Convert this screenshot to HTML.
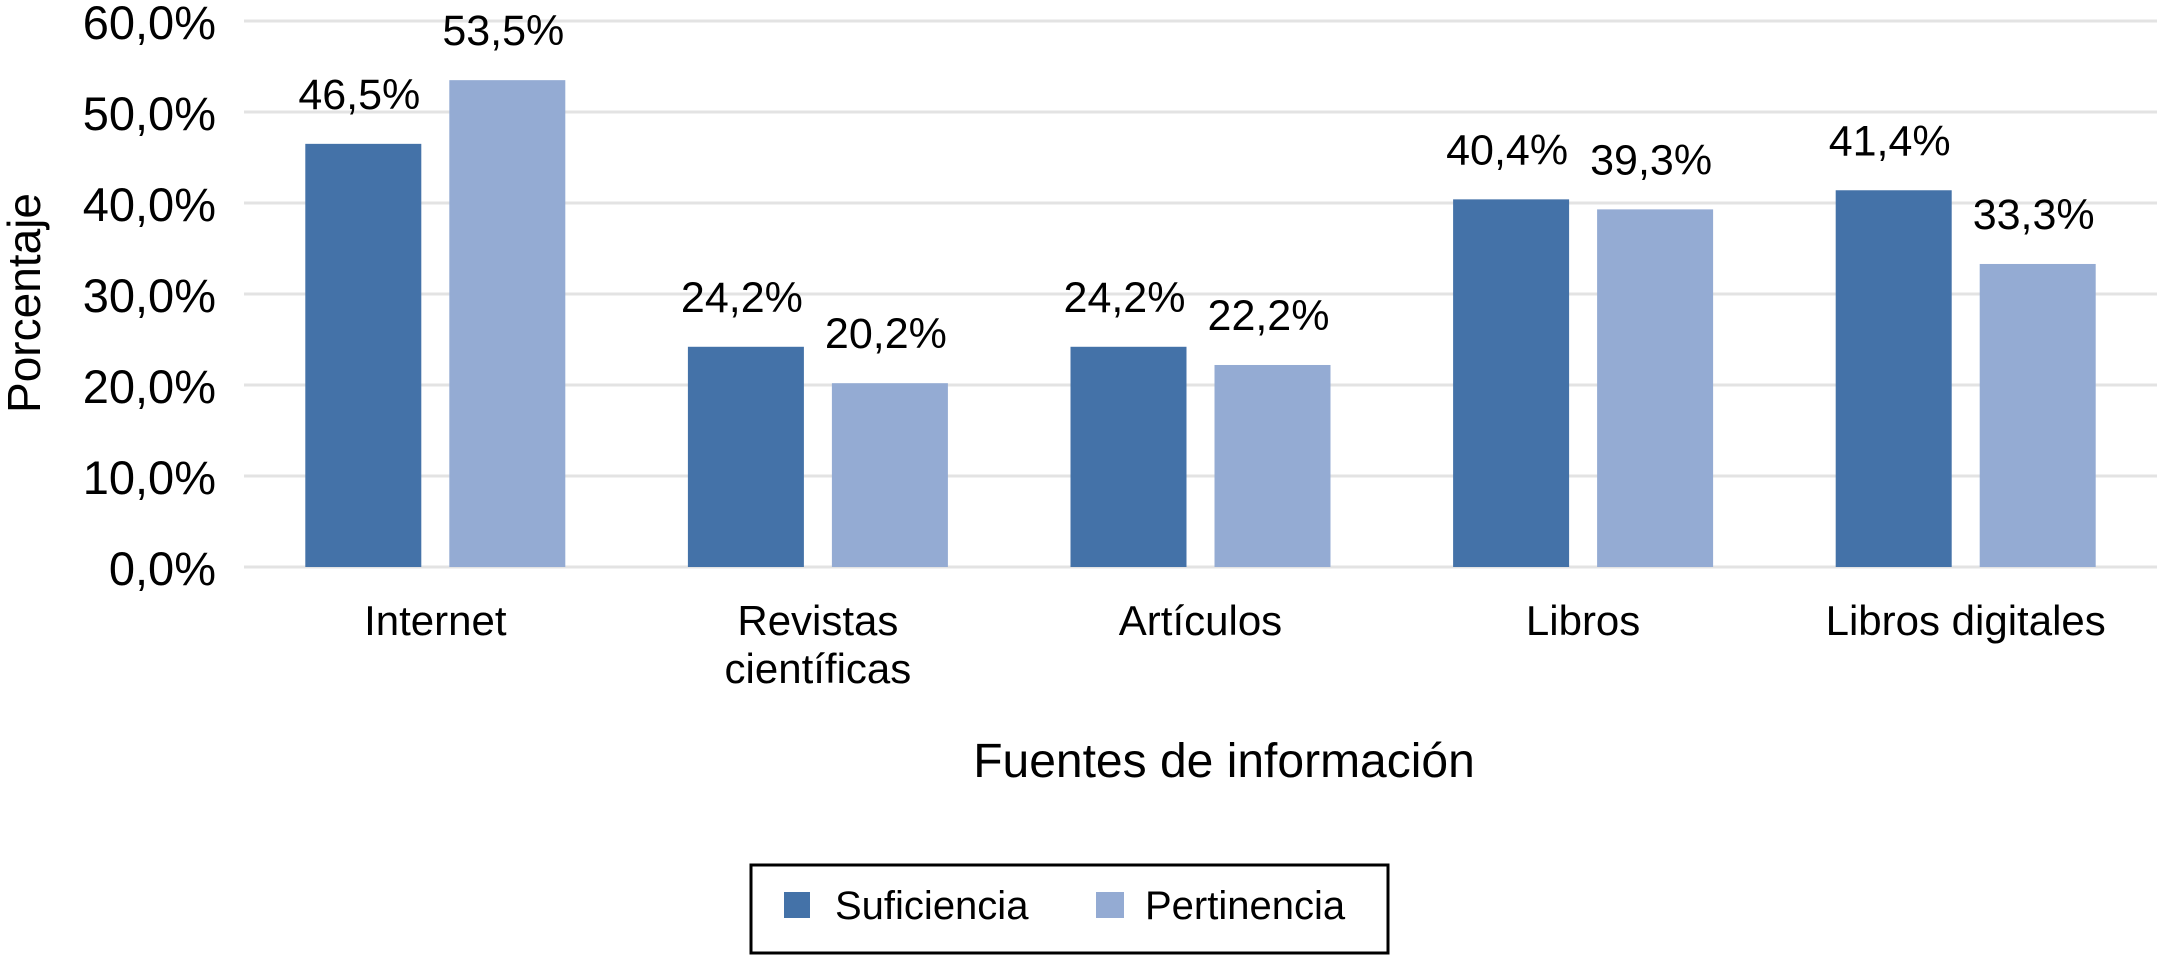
<!DOCTYPE html>
<html><head><meta charset="utf-8"><style>
html,body{margin:0;padding:0;background:#fff;}
svg{display:block;font-family:"Liberation Sans",Arial,sans-serif;}
</style></head><body>
<svg id="chart" width="2164" height="955" viewBox="0 0 2164 955">
<g id="grid"></g><g id="bars"></g><g id="labels"></g>
<text transform="translate(40,303) rotate(-90)" text-anchor="middle" font-size="46" fill="#000">Porcentaje</text>
<text x="1224" y="777" text-anchor="middle" font-size="48" fill="#000">Fuentes de información</text>
<g>
<rect x="751" y="865" width="637" height="88" fill="#fff" stroke="#000" stroke-width="3"/>
<rect x="784" y="892" width="26" height="26" fill="#4472a8"/>
<text x="835" y="919" font-size="40" fill="#000">Suficiencia</text>
<rect x="1096" y="892" width="28" height="26" fill="#94abd3"/>
<text x="1145" y="919" font-size="40" fill="#000">Pertinencia</text>
</g>
</svg>
<script>
const categories=[["Internet"],["Revistas","científicas"],["Artículos"],["Libros"],["Libros digitales"]];
const suficiencia=[46.5,24.2,24.2,40.4,41.4];
const pertinencia=[53.5,20.2,22.2,39.3,33.3];
const ticks=[0,10,20,30,40,50,60];
const NS="http://www.w3.org/2000/svg";
const left=244,right=2157,base=567,top0=21,yMax=60;
const catW=(right-left)/categories.length;
const y=v=>base-(v/yMax)*(base-top0);
const fmt=v=>v.toFixed(1).replace('.',',')+'%';
function mk(tag,attrs,parent){const e=document.createElementNS(NS,tag);for(const k in attrs)e.setAttribute(k,attrs[k]);parent.appendChild(e);return e;}
const grid=document.getElementById('grid'),bars=document.getElementById('bars'),labels=document.getElementById('labels');
ticks.forEach(t=>{
 const l=mk('line',{x1:left,x2:right,y1:y(t),y2:y(t),stroke:'#e3e3e3','stroke-width':3},grid);
 
 
 const tx=mk('text',{x:216,y:y(t)+18,'text-anchor':'end','font-size':47,fill:'#000'},labels);
 tx.textContent=fmt(t);
 
 
});
const bw=116,gap=28,off=(catW-2*bw-gap)/2;
categories.forEach((c,i)=>{
 const x0=left+i*catW+off;
 [[suficiencia[i],'#4472a8',x0,'suficiencia'],[pertinencia[i],'#94abd3',x0+bw+gap,'pertinencia']].forEach(([v,col,x,s])=>{
  const r=mk('rect',{x:x,y:y(v),width:bw,height:base-y(v),fill:col},bars);
  
  
  const t=mk('text',{x:x+bw/2-4,y:y(v)-35,'text-anchor':'middle','font-size':43,fill:'#000'},labels);
  t.textContent=fmt(v);
  
  
 });
 c.forEach((line,j)=>{
  const t=mk('text',{x:left+i*catW+catW/2,y:635+j*48,'text-anchor':'middle','font-size':42,fill:'#000'},labels);
  t.textContent=line;
  
  
 });
});
</script>
</body></html>
